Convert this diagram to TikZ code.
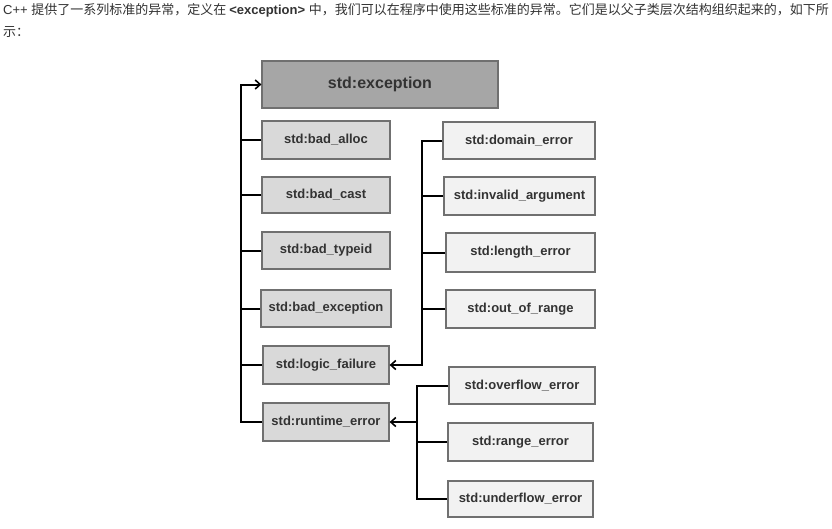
\documentclass[tikz,border=0pt]{standalone}
\usepackage{fontspec}
\setmainfont{Liberation Sans}
\newfontfamily\cjk{Noto Sans CJK SC}
\usetikzlibrary{arrows.meta}
\definecolor{txt}{HTML}{333333}
\definecolor{bord}{HTML}{707070}
\definecolor{topfill}{HTML}{A6A6A6}
\definecolor{leftfill}{HTML}{D9D9D9}
\definecolor{rightfill}{HTML}{F2F2F2}
\tikzset{
  box/.style={draw=bord, line width=1.2pt, inner sep=0pt, text=txt,
    font=\fontsize{13}{15}\selectfont\bfseries},
  lbox/.style={box, fill=leftfill},
  rbox/.style={box, fill=rightfill},
  conn/.style={line width=2pt, black},
  arr/.style={conn, -{Straight Barb[length=5pt,width=9pt,line width=1.6pt]}},
  hdr/.style={anchor=west, inner sep=0pt, text=txt, font=\fontsize{13}{15}\selectfont}
}
\begin{document}
\begin{tikzpicture}[x=1pt,y=-1pt]
\useasboundingbox[fill=white] (0,0) rectangle (832,528);
\node[hdr] (h1) at (3,10) {C++ \cjk 提供了一系列标准的异常，定义在 \rmfamily\bfseries <exception> \mdseries\cjk 中，我们可以在程序中使用这些标准的异常。它们是以父子类层次结构组织起来的，如下所};
\node[hdr] (h2) at (3,32) {\cjk 示：};
% left column
\node[box, fill=topfill, minimum width=236pt, minimum height=47pt, font=\fontsize{16}{18}\selectfont\bfseries] (exc) at (380,84.5) {std:exception};
\node[lbox, minimum width=128pt, minimum height=38pt] (alloc) at (326,140) {std:bad\_alloc};
\node[lbox, minimum width=128pt, minimum height=36pt] (cast) at (326,195) {std:bad\_cast};
\node[lbox, minimum width=128pt, minimum height=37pt] (typeid) at (326,250.5) {std:bad\_typeid};
\node[lbox, minimum width=130pt, minimum height=37pt] (badexc) at (326,308.5) {std:bad\_exception};
\node[lbox, minimum width=126pt, minimum height=38pt] (logic) at (326,365) {std:logic\_failure};
\node[lbox, minimum width=126pt, minimum height=38pt] (runtime) at (326,422) {std:runtime\_error};
% right column
\node[rbox, minimum width=152pt, minimum height=37pt] (domain) at (519,140.5) {std:domain\_error};
\node[rbox, minimum width=151pt, minimum height=38pt] (invalid) at (519.5,196) {std:invalid\_argument};
\node[rbox, minimum width=149pt, minimum height=39pt] (length) at (520.5,252.5) {std:length\_error};
\node[rbox, minimum width=149pt, minimum height=38pt] (outrange) at (520.5,309) {std:out\_of\_range};
\node[rbox, minimum width=146pt, minimum height=37pt] (overflow) at (522,385.5) {std:overflow\_error};
\node[rbox, minimum width=145pt, minimum height=38pt] (range) at (520.5,442) {std:range\_error};
\node[rbox, minimum width=145pt, minimum height=36pt] (underflow) at (520.5,499) {std:underflow\_error};
% trunks
\coordinate (lt) at (241,0);
\coordinate (rt) at (422,0);
\coordinate (bt) at (417,0);
% left tree
\draw[arr] (runtime.west) -- (runtime.west -| lt) |- (exc.west);
\foreach \n in {alloc,cast,typeid,badexc,logic}
  \draw[conn] (\n.west) -- (\n.west -| lt);
% logic tree
\draw[arr] (domain.west) -- (domain.west -| rt) |- (logic.east);
\foreach \n in {invalid,length,outrange}
  \draw[conn] (\n.west) -- (\n.west -| rt);
% runtime tree
\draw[conn] (overflow.west) -- (overflow.west -| bt) |- (underflow.west);
\draw[conn] (range.west) -- (range.west -| bt);
\draw[arr] (runtime.east -| bt) -- (runtime.east);
\end{tikzpicture}
\end{document}
